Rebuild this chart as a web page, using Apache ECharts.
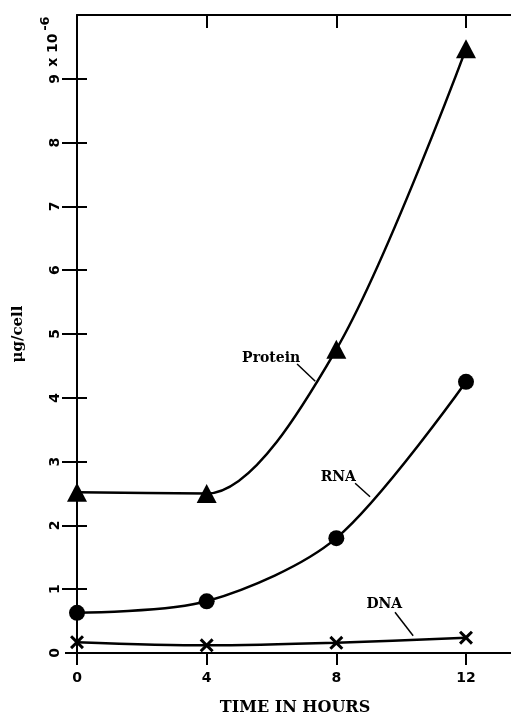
<!DOCTYPE html>
<html><head><meta charset="utf-8">
<script src="https://cdn.jsdelivr.net/npm/echarts@6/dist/echarts.min.js"></script>
<style>html,body{margin:0;padding:0;background:#fff}#c{width:511px;height:714px}</style>
</head><body><div id="c"></div>
<script>
const hours = [0, 4, 8, 12];
const protein = [2.52, 2.5, 4.76, 9.47];
const rna = [0.63, 0.81, 1.8, 4.25];
const dna = [0.17, 0.12, 0.16, 0.24];
const yTicks = [0, 1, 2, 3, 4, 5, 6, 7, 8, 9];
const yTickLabels = ['0', '1', '2', '3', '4', '5', '6', '7', '8', '9'];
const xTicks = [0, 4, 8, 12];
const xTickLabels = ['0', '4', '8', '12'];
const annotations = [
  { text: 'Protein', at: [5.99, 4.62], from: [6.79, 4.53], to: [7.35, 4.26] },
  { text: 'RNA', at: [8.06, 2.76], from: [8.58, 2.66], to: [9.04, 2.45] },
  { text: 'DNA', at: [9.48, 0.77], from: [9.81, 0.64], to: [10.37, 0.27] }
];

const serif = 'DejaVu Serif';
const sans = 'DejaVu Sans';
const black = '#000';
const crossPath = 'path://M0,1.5L1.5,0L5,3.5L8.5,0L10,1.5L6.5,5L10,8.5L8.5,10L5,6.5L1.5,10L0,8.5L3.5,5Z';

const chart = echarts.init(document.getElementById('c'), null, { renderer: 'canvas' });

function pairs(vals) { return hours.map((h, i) => [h, vals[i]]); }
function ann(a) {
  return {
    markPoint: {
      silent: true, symbol: 'circle', symbolSize: 0, animation: false,
      data: [{ coord: a.at, value: a.text }],
      label: { show: true, position: 'inside', formatter: a.text, color: black,
        fontFamily: serif, fontWeight: 'bold', fontSize: 14 }
    },
    markLine: {
      silent: true, symbol: ['none', 'none'], animation: false,
      label: { show: false },
      lineStyle: { color: black, width: 1.5, type: 'solid' },
      data: [[{ coord: a.from }, { coord: a.to }]]
    }
  };
}
const lineStyle = { color: black, width: 2.5 };
const axLine = { show: true, onZero: false, lineStyle: { color: black, width: 2 } };
const tickStyle = { color: black, width: 2 };

const option = {
  animation: false,
  backgroundColor: '#fff',
  grid: { left: 77, right: -2, top: 15, bottom: 61, outerBoundsMode: 'none', containLabel: false },
  xAxis: [
    {
      type: 'value', min: 0, max: 13.45, interval: 4, position: 'bottom',
      axisLine: axLine,
      axisTick: { show: true, length: 12, lineStyle: tickStyle, customValues: xTicks },
      axisLabel: { customValues: xTicks, formatter: v => xTickLabels[xTicks.indexOf(v)] || '',
        margin: 18, color: black, fontFamily: sans, fontWeight: 'bold', fontSize: 14 },
      splitLine: { show: false },
      name: 'TIME IN HOURS', nameLocation: 'middle', nameGap: 47,
      nameTextStyle: { color: black, fontFamily: serif, fontWeight: 'bold', fontSize: 16 }
    },
    {
      type: 'value', min: 0, max: 13.45, interval: 4, position: 'top',
      axisLine: axLine,
      axisTick: { show: true, inside: true, length: 13, lineStyle: tickStyle, customValues: xTicks },
      axisLabel: { show: false }, splitLine: { show: false }
    }
  ],
  yAxis: [
    {
      type: 'value', min: 0, max: 10, interval: 1, position: 'left',
      axisLine: axLine,
      axisTick: { show: true, length: 12, lineStyle: tickStyle, customValues: yTicks },
      axisLabel: { customValues: yTicks, formatter: v => yTickLabels[yTicks.indexOf(v)] || '',
        rotate: 90, margin: 15, color: black, fontFamily: sans, fontWeight: 'bold', fontSize: 14 },
      splitLine: { show: false },
      name: 'μg/cell', nameLocation: 'middle', nameGap: 51, nameRotate: 90,
      nameTextStyle: { color: black, fontFamily: serif, fontWeight: 'bold', fontSize: 15 }
    },
    {
      type: 'value', min: 0, max: 10, interval: 1, position: 'left',
      axisLine: { show: false },
      axisTick: { show: true, inside: true, length: 10, lineStyle: tickStyle, customValues: yTicks },
      axisLabel: { show: false }, splitLine: { show: false }
    },
    {
      type: 'value', min: 0, max: 10, interval: 1, position: 'right',
      axisLine: { show: false },
      axisTick: { show: true, inside: true, length: 15, lineStyle: tickStyle, customValues: yTicks.slice(1) },
      axisLabel: { show: false }, splitLine: { show: false }
    }
  ],
  series: [
    Object.assign({
      name: 'Protein', type: 'line', smooth: 0.3, data: pairs(protein),
      symbol: 'triangle', symbolSize: [20, 19], showAllSymbol: true,
      lineStyle: lineStyle, itemStyle: { color: black }, z: 3
    }, ann(annotations[0])),
    Object.assign({
      name: 'RNA', type: 'line', smooth: 0.3, data: pairs(rna),
      symbol: 'circle', symbolSize: 16,
      lineStyle: lineStyle, itemStyle: { color: black }, z: 3
    }, ann(annotations[1])),
    Object.assign({
      name: 'DNA', type: 'line', smooth: 0.3, data: pairs(dna),
      symbol: crossPath, symbolSize: 14,
      lineStyle: lineStyle, itemStyle: { color: black }, z: 3
    }, ann(annotations[2]))
  ]
};
chart.setOption(option);

const y9 = chart.convertToPixel({ yAxisIndex: 0 }, 9);
chart.setOption({
  graphic: [
    {
      type: 'text', x: 53, y: y9 - 12, rotation: Math.PI / 2, silent: true,
      style: { text: 'x 10', align: 'left', verticalAlign: 'middle',
        font: 'bold 14px "DejaVu Sans"', fill: black }
    },
    {
      type: 'text', x: 46, y: y9 - 48, rotation: Math.PI / 2, silent: true,
      style: { text: '-6', align: 'left', verticalAlign: 'middle',
        font: 'bold 13px "DejaVu Sans"', fill: black }
    }
  ]
});
</script></body></html>
